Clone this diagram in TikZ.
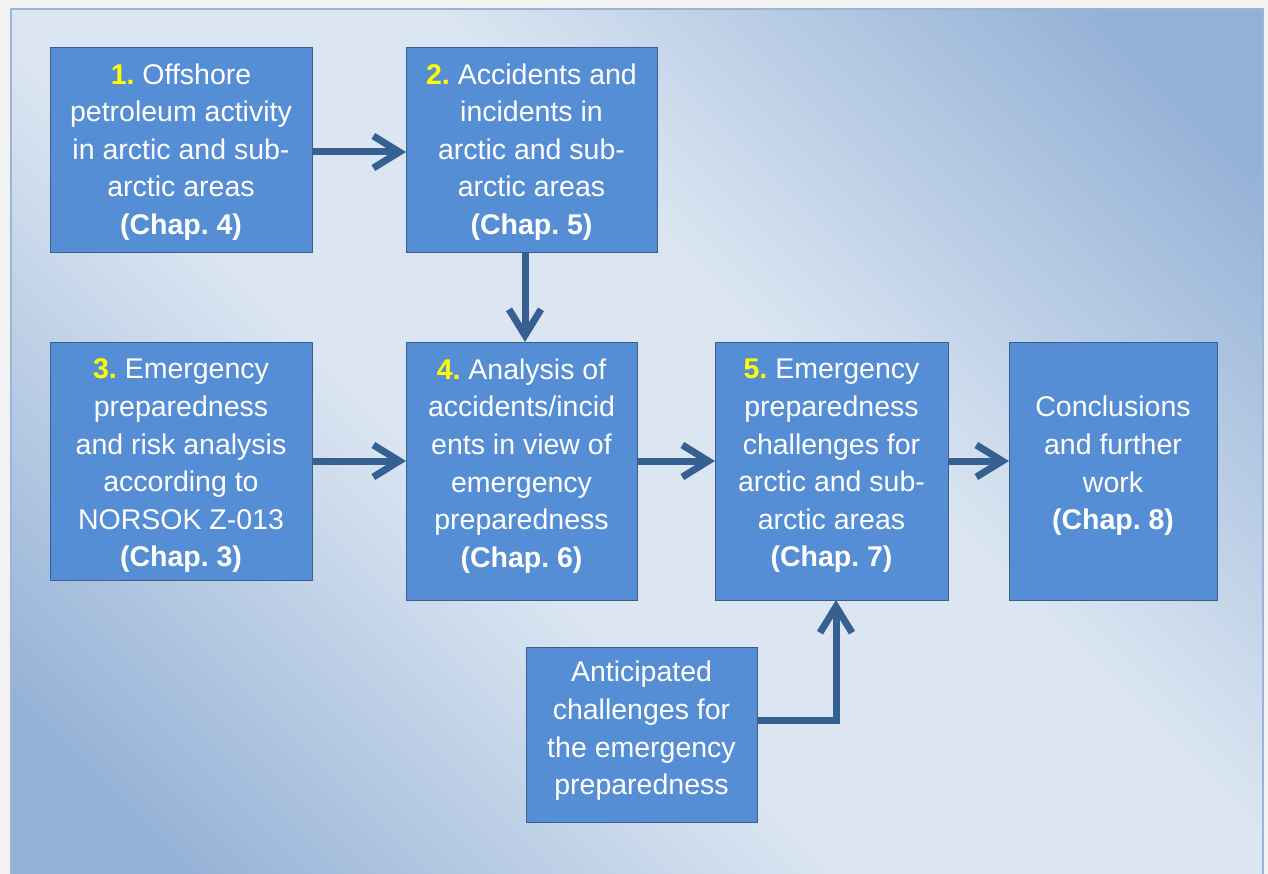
\documentclass[tikz,border=0pt]{standalone}
\usepackage{fontspec}
\setmainfont{Liberation Sans}
\usetikzlibrary{arrows.meta,calc}
\definecolor{pdark}{HTML}{93B1D6}
\definecolor{plight}{HTML}{DCE6F2}
\definecolor{outerbg}{HTML}{F2F2F2}
\definecolor{panelline}{HTML}{9AB4D8}
\definecolor{boxfill}{HTML}{558ED5}
\definecolor{boxline}{HTML}{3A5F8F}
\definecolor{arrowc}{HTML}{376092}
\definecolor{numc}{HTML}{FFFF00}
\pgfdeclareverticalshading{panelshade}{100bp}{color(0bp)=(pdark); color(30bp)=(pdark); color(45bp)=(plight); color(55bp)=(plight); color(70bp)=(pdark); color(100bp)=(pdark)}
\tikzset{
  box/.style={draw=boxline, fill=boxfill, line width=1pt, inner sep=0pt, outer sep=0pt, rectangle},
  txt/.style={text=white, align=center, inner sep=0pt, font=\fontsize{28.5}{37.6}\selectfont},
  arr/.style={draw=arrowc, line width=7pt, -{Straight Barb[length=26pt,width=32pt]}},
}
\newcommand{\nm}[1]{\textcolor{numc}{\textbf{#1}}}
\frenchspacing
\begin{document}
\begin{tikzpicture}[x=1pt,y=-1pt]
\useasboundingbox (0,0) rectangle (1268,874);
\fill[outerbg] (0,0) rectangle (1268,874);
\begin{scope}
\clip (11,9) rectangle (1263,874);
\shade[shading=panelshade, shading angle=-45] (-163,-359) rectangle (1437,1241);
\end{scope}
\draw[panelline, line width=2pt] (11,9) rectangle (1263,875);
% boxes
\node[box, minimum width=262pt, minimum height=205pt] (b1) at (181,150.5) {};
\node[box, minimum width=251pt, minimum height=205pt] (b2) at (531.5,150.5) {};
\node[box, minimum width=262pt, minimum height=238pt] (b3) at (181,461) {};
\node[box, minimum width=231pt, minimum height=258pt] (b4) at (521.5,471) {};
\node[box, minimum width=233pt, minimum height=258pt] (b5) at (831.5,471) {};
\node[box, minimum width=208pt, minimum height=258pt] (b6) at (1113,471) {};
\node[box, minimum width=231pt, minimum height=175pt] (b7) at (641.5,734.5) {};
% texts
\node[txt] (t1) at (181,152) {\nm{1.} Offshore\\petroleum activity\\in arctic and sub-\\arctic areas\\\textbf{(Chap. 4)}};
\node[txt] (t2) at (531.5,152) {\nm{2.} Accidents and\\incidents in\\arctic and sub-\\arctic areas\\\textbf{(Chap. 5)}};
\node[txt] (t3) at (181,466) {\nm{3.} Emergency\\preparedness\\and risk analysis\\according to\\NORSOK Z-013\\\textbf{(Chap. 3)}};
\node[txt] (t4) at (521.5,466) {\nm{4.} Analysis of\\accidents/incid\\ents in view of\\emergency\\preparedness\\\textbf{(Chap. 6)}};
\node[txt] (t5) at (831.5,466) {\nm{5.} Emergency\\preparedness\\challenges for\\arctic and sub-\\arctic areas\\\textbf{(Chap. 7)}};
\node[txt] (t6) at (1113,466) {Conclusions\\and further\\work\\\textbf{(Chap. 8)}};
\node[txt] (t7) at (641.5,731) {Anticipated\\challenges for\\the emergency\\preparedness};
% arrows
\draw[arr] ([yshift=-1.5pt]b1.east) -- ([yshift=-1.5pt]b2.west);
\draw[arr] ([xshift=-6.5pt]b2.south) -- ([xshift=3.5pt]b4.north);
\draw[arr] (b3.east) -- ([yshift=10pt]b4.west);
\draw[arr] ([yshift=10pt]b4.east) -- ([yshift=10pt]b5.west);
\draw[arr] ([yshift=10pt]b5.east) -- ([yshift=10pt]b6.west);
\draw[arr] ([yshift=14.5pt]b7.east) -| ([xshift=4.5pt]b5.south);
\end{tikzpicture}
\end{document}
